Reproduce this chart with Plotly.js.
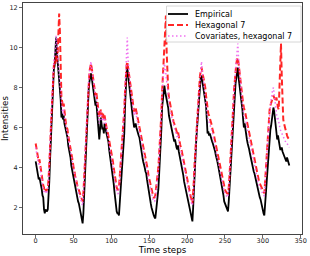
<!DOCTYPE html>
<html>
<head>
<meta charset="utf-8">
<script src="https://cdn.plot.ly/plotly-3.0.1.min.js"></script>
<style>html,body{margin:0;padding:0;background:#fff;}#chart{width:310px;height:256px;}</style>
</head>
<body>
<div id="chart"></div>
<script>
// Time steps are the array index (0..335)
const seriesNames = ["Empirical", "Hexagonal 7", "Covariates, hexagonal 7"];

const empirical = [
  4.3, 4.1, 3.9, 3.6, 3.4, 3.5, 3.3, 3.3, 2.9, 2.6, 2.5, 1.9, 1.7, 1.9, 1.8, 1.8, 1.9,
  2.4, 3.3, 4.4, 5.5, 6.5, 7.6, 8.5, 8.9, 9.1, 9.7, 10.5,
  9.8, 9.3, 8.9, 8.3, 8.0, 7.4, 6.5, 6.7, 6.4, 6.6, 6.2, 6.0, 5.9, 5.6, 5.5, 5.1, 4.9, 4.6, 4.5, 4.1, 3.9, 3.7, 3.4, 3.3, 3.0, 2.9, 2.6, 2.5, 2.3, 2.2, 2.0, 1.8, 1.7, 1.4, 1.2,
  1.7, 2.6, 3.7, 4.8, 5.8, 6.6, 7.3, 7.9, 8.3, 8.5, 8.7,
  8.5, 8.2, 7.9, 7.5, 7.4, 7.1, 7.3, 6.8, 6.6, 6.1, 5.4, 5.9, 6.5, 6.2, 5.9, 6.0, 5.7, 6.2, 6.1, 5.8, 5.6, 5.4, 5.3, 4.9, 4.6, 4.3, 4.1, 3.9, 3.7, 3.2, 2.8, 2.3, 1.9, 1.8, 1.7, 1.7, 1.6,
  2.2, 2.7, 3.2, 3.8, 4.5, 5.1, 5.7, 7.0, 8.5, 8.7, 9.0,
  8.6, 8.2, 7.9, 7.5, 7.3, 7.0, 6.6, 6.3, 6.0, 6.1, 6.2, 6.0, 5.8, 5.7, 5.6, 5.5, 5.2, 4.9, 4.7, 4.5, 4.3, 4.2, 4.0, 3.8, 3.7, 3.4, 3.1, 2.8, 2.6, 2.4, 2.2, 2.0, 1.8, 1.7, 1.6, 1.5, 1.45,
  1.8, 2.1, 2.4, 2.9, 3.6, 4.3, 4.9, 5.9, 7.0, 7.5, 7.9, 8.1,
  7.8, 7.6, 7.5, 7.4, 7.0, 6.6, 6.4, 6.2, 6.0, 5.8, 5.7, 5.5, 5.3, 5.4, 5.1, 5.0, 4.9, 5.1, 4.8, 4.6, 4.4, 4.3, 4.0, 3.8, 3.6, 3.3, 3.1, 2.9, 2.8, 2.5, 2.4, 2.2, 2.0, 1.9, 1.7, 1.5, 1.3,
  2.0, 3.0, 4.0, 4.6, 5.3, 5.9, 6.4, 7.0, 7.6, 8.3, 8.5, 8.6,
  8.3, 8.1, 7.9, 7.6, 7.3, 7.1, 6.4, 5.7, 5.8, 5.6, 5.7, 5.5, 5.4, 5.3, 5.2, 5.1, 5.0, 4.8, 4.6, 4.5, 4.3, 4.1, 3.9, 3.7, 3.5, 3.3, 3.1, 2.8, 2.6, 2.3, 2.2, 2.1, 2.0, 1.9, 1.8,
  2.3, 3.0, 3.6, 4.0, 4.8, 5.6, 6.4, 7.4, 7.9, 8.2, 8.5, 8.7, 9.0,
  8.5, 8.2, 7.8, 7.5, 7.2, 6.9, 6.4, 6.0, 6.2, 5.8, 5.6, 5.4, 5.2, 5.1, 4.9, 4.7, 4.5, 4.4, 4.2, 4.0, 3.8, 3.7, 3.5, 3.3, 3.1, 3.0, 2.8, 2.7, 2.5, 2.4, 2.2, 2.0, 1.8, 1.7, 1.6,
  2.2, 2.9, 3.5, 4.0, 4.5, 5.0, 5.5, 5.9, 6.1, 6.4, 6.7, 7.0,
  6.8, 6.4, 6.0, 5.7, 5.4, 5.6, 5.3, 5.1, 4.9, 4.9, 5.0, 4.8, 4.7, 4.7, 4.6, 4.5, 4.3, 4.5, 4.4, 4.2, 4.1
];

const hexagonal7 = [
  5.2, 5.0, 4.7, 4.5, 4.3, 4.4, 4.1, 3.9, 3.6, 3.4, 3.1, 3.0, 2.8, 2.9, 2.8, 2.9, 3.0,
  3.4, 4.0, 5.0, 5.9, 6.8, 7.8, 8.6, 9.1, 9.4, 9.2, 9.6,
  9.3, 9.7, 10.4, 11.7, 10.8, 9.0, 7.5, 7.3, 7.0, 7.2, 6.7, 6.5, 6.2, 6.1, 5.9, 5.6, 5.4, 5.2, 5.0, 4.7, 4.5, 4.3, 4.0, 3.9, 3.6, 3.5, 3.3, 3.1, 3.0, 2.8, 2.7, 2.6, 2.5, 2.4, 2.3,
  2.7, 3.5, 4.5, 5.5, 6.4, 7.2, 7.9, 8.4, 8.8, 9.0, 9.2,
  9.0, 8.7, 8.4, 8.1, 7.9, 7.6, 7.8, 7.4, 7.1, 6.8, 6.5, 6.6, 6.9, 6.8, 6.5, 6.7, 6.4, 6.6, 6.3, 6.1, 5.9, 5.8, 5.6, 5.4, 5.1, 4.9, 4.7, 4.5, 4.3, 4.0, 3.7, 3.4, 3.2, 3.0, 2.9, 2.9, 3.0,
  3.5, 4.0, 4.5, 5.0, 5.6, 6.2, 6.9, 7.8, 8.8, 9.1, 9.3,
  9.0, 8.6, 8.3, 8.0, 7.8, 7.5, 7.2, 7.0, 6.8, 6.9, 7.0, 6.8, 6.6, 6.4, 6.2, 6.1, 5.9, 5.6, 5.4, 5.2, 5.0, 4.9, 4.7, 4.5, 4.4, 4.1, 3.9, 3.6, 3.4, 3.2, 3.0, 2.9, 2.7, 2.6, 2.5, 2.5, 2.6,
  2.9, 3.2, 3.6, 4.0, 4.6, 5.2, 5.8, 6.7, 7.8, 8.6, 9.2, 9.6,
  10.5, 11.6, 9.8, 8.4, 7.9, 7.5, 7.3, 7.0, 6.8, 6.6, 6.5, 6.3, 6.2, 6.1, 5.9, 5.8, 5.7, 5.8, 5.5, 5.3, 5.1, 5.0, 4.8, 4.6, 4.4, 4.1, 3.9, 3.7, 3.5, 3.3, 3.1, 2.9, 2.7, 2.5, 2.4, 2.3, 2.2,
  2.6, 3.4, 4.3, 5.0, 5.6, 6.2, 6.8, 7.4, 8.0, 8.6, 8.8, 9.0,
  8.8, 8.6, 8.4, 8.2, 8.0, 7.6, 7.2, 6.8, 6.7, 6.6, 6.5, 6.4, 6.2, 6.0, 5.9, 5.7, 5.5, 5.3, 5.1, 4.9, 4.7, 4.5, 4.3, 4.1, 3.9, 3.7, 3.5, 3.3, 3.2, 3.0, 2.9, 2.8, 2.7, 2.7, 2.7,
  3.0, 3.6, 4.2, 4.8, 5.5, 6.3, 7.1, 7.9, 8.5, 8.9, 9.2, 9.4, 9.5,
  9.2, 8.8, 8.4, 8.0, 7.7, 7.4, 7.2, 7.0, 6.9, 6.7, 6.5, 6.3, 6.1, 5.9, 5.7, 5.5, 5.3, 5.1, 4.9, 4.7, 4.5, 4.3, 4.1, 3.9, 3.8, 3.6, 3.5, 3.3, 3.2, 3.1, 3.0, 2.9, 2.8, 2.7, 2.7,
  3.3, 4.0, 4.6, 5.1, 5.8, 6.5, 6.9, 7.1, 7.2, 7.3, 7.5, 7.6,
  7.5, 7.4, 7.3, 7.5, 7.2, 7.0, 6.9, 8.2, 9.6, 10.2, 8.6, 6.8, 6.4, 6.2, 6.0, 5.9, 5.7, 5.6, 5.5, 5.4, 5.4
];

const covariatesHex7 = [
  5.0, 4.8, 4.5, 4.3, 4.1, 4.2, 3.9, 3.7, 3.4, 3.2, 2.9, 2.8, 2.7, 2.8, 2.7, 2.8, 2.9,
  3.3, 4.0, 5.0, 6.0, 7.0, 8.0, 8.8, 9.3, 9.6, 9.9, 10.6,
  10.0, 9.6, 9.2, 8.6, 8.2, 7.8, 7.0, 6.9, 6.7, 6.9, 6.5, 6.3, 6.1, 5.9, 5.7, 5.5, 5.2, 5.0, 4.8, 4.6, 4.4, 4.1, 3.9, 3.7, 3.5, 3.3, 3.2, 3.0, 2.8, 2.7, 2.6, 2.4, 2.3, 2.2, 2.1,
  2.6, 3.4, 4.4, 5.4, 6.3, 7.1, 7.8, 8.4, 8.8, 9.1, 9.3,
  9.0, 8.6, 8.3, 8.0, 7.8, 7.5, 7.6, 7.2, 7.0, 6.6, 6.2, 6.4, 6.8, 6.6, 6.3, 6.5, 6.2, 6.5, 6.3, 6.0, 5.8, 5.6, 5.4, 5.2, 4.9, 4.7, 4.5, 4.3, 4.1, 3.8, 3.5, 3.2, 3.0, 2.8, 2.7, 2.7, 2.8,
  3.3, 3.8, 4.3, 4.9, 5.5, 6.2, 7.0, 8.0, 9.2, 9.8, 10.5,
  9.4, 8.8, 8.4, 8.0, 7.7, 7.4, 7.1, 6.8, 6.6, 6.7, 6.8, 6.6, 6.4, 6.2, 6.0, 5.9, 5.7, 5.4, 5.2, 5.0, 4.8, 4.7, 4.5, 4.3, 4.2, 3.9, 3.7, 3.4, 3.2, 3.0, 2.8, 2.7, 2.5, 2.4, 2.3, 2.3, 2.4,
  2.7, 3.0, 3.4, 3.9, 4.5, 5.1, 5.8, 6.7, 7.8, 8.5, 8.9, 9.2,
  9.0, 8.6, 8.2, 7.8, 7.5, 7.2, 7.0, 6.8, 6.6, 6.4, 6.3, 6.1, 6.0, 5.9, 5.7, 5.6, 5.5, 5.6, 5.3, 5.1, 4.9, 4.8, 4.6, 4.4, 4.2, 3.9, 3.7, 3.5, 3.3, 3.1, 2.9, 2.7, 2.5, 2.4, 2.3, 2.2, 2.1,
  2.5, 3.3, 4.2, 4.9, 5.5, 6.1, 6.7, 7.3, 7.9, 8.6, 9.0, 9.3,
  8.9, 8.5, 8.2, 7.9, 7.6, 7.3, 6.9, 6.5, 6.4, 6.3, 6.2, 6.1, 5.9, 5.8, 5.6, 5.4, 5.2, 5.0, 4.8, 4.6, 4.4, 4.2, 4.0, 3.8, 3.6, 3.4, 3.2, 3.0, 2.9, 2.8, 2.7, 2.6, 2.6, 2.5, 2.6,
  2.9, 3.5, 4.1, 4.7, 5.4, 6.2, 7.0, 7.8, 8.5, 9.0, 9.4, 9.8, 10.2,
  9.4, 8.8, 8.3, 7.9, 7.6, 7.2, 6.9, 6.6, 6.6, 6.4, 6.2, 6.0, 5.8, 5.6, 5.4, 5.2, 5.0, 4.8, 4.6, 4.4, 4.2, 4.0, 3.9, 3.7, 3.5, 3.4, 3.2, 3.1, 3.0, 2.9, 2.8, 2.7, 2.6, 2.6, 2.6,
  3.1, 3.8, 4.5, 5.1, 5.7, 6.2, 6.7, 7.1, 7.4, 7.7, 7.9, 8.0,
  7.6, 7.2, 6.9, 6.6, 6.4, 6.5, 6.2, 6.0, 5.9, 5.8, 5.7, 5.6, 5.5, 5.4, 5.3, 5.3, 5.2, 5.2, 5.1, 5.0, 5.0
];

const xTicks = [0, 50, 100, 150, 200, 250, 300, 350];
const yTicks = [2, 4, 6, 8, 10, 12];

const FONT = "DejaVu Sans";
const lineStyles = [
  {color: "#000000", width: 1.8},
  {color: "rgba(255,0,0,0.85)", width: 2, dash: "6px,3px"},
  {color: "rgba(238,100,238,0.9)", width: 1.5, dash: "1.5px,2.5px"}
];
const seriesData = [empirical, hexagonal7, covariatesHex7];

const traces = seriesData.map((ys, i) => ({
  y: ys, name: seriesNames[i], type: "scatter", mode: "lines",
  line: lineStyles[i], showlegend: false
}));

// Compact matplotlib-style legend built in paper coordinates
const plotL = 23, plotT = 3, plotW = 279, plotH = 231;
const px = v => (v - plotL) / plotW;
const py = v => (plotT + plotH - v) / plotH;
const shapes = [{
  type: "rect", xref: "paper", yref: "paper", layer: "above",
  x0: px(166.5), x1: px(301), y0: py(42), y1: py(6),
  fillcolor: "rgba(255,255,255,0.85)", line: {color: "#cccccc", width: 0.8}
}];
const annotations = [];
const rowY = [14, 25, 36];
seriesNames.forEach((nm, i) => {
  const ls = lineStyles[i];
  shapes.push({type: "line", xref: "paper", yref: "paper", layer: "above",
    x0: px(168), x1: px(188), y0: py(rowY[i]), y1: py(rowY[i]),
    line: {color: ls.color, width: ls.width, dash: ls.dash || "solid"}});
  annotations.push({xref: "paper", yref: "paper", x: px(193), y: py(rowY[i]),
    xanchor: "left", yanchor: "middle", showarrow: false, text: nm,
    font: {family: FONT, size: 8, color: "#000"}});
});

const axisCommon = {
  showgrid: false, zeroline: false, showline: true, mirror: true,
  linecolor: "#444", linewidth: 1, ticks: "outside", ticklen: 3,
  tickcolor: "#444", tickwidth: 0.8, automargin: false,
  tickfont: {family: FONT, size: 6.5, color: "#222"}
};

const layout = {
  width: 310, height: 256,
  margin: {l: plotL, r: 310 - plotL - plotW, t: plotT, b: 256 - plotT - plotH},
  paper_bgcolor: "#fff", plot_bgcolor: "#fff",
  showlegend: false,
  shapes: shapes, annotations: annotations,
  xaxis: Object.assign({}, axisCommon, {
    range: [-16.75, 351.75], tickvals: xTicks, ticktext: xTicks.map(String),
    ticklabelstandoff: -3,
    title: {text: "Time steps", font: {family: FONT, size: 8.7, color: "#000"}, standoff: 0}
  }),
  yaxis: Object.assign({}, axisCommon, {
    range: [0.67, 12.23], tickvals: yTicks, ticktext: yTicks.map(String),
    title: {text: "Intensities", font: {family: FONT, size: 8.7, color: "#000"}, standoff: 1}
  })
};

Plotly.newPlot("chart", traces, layout, {staticPlot: true, displayModeBar: false});
</script>
</body>
</html>
